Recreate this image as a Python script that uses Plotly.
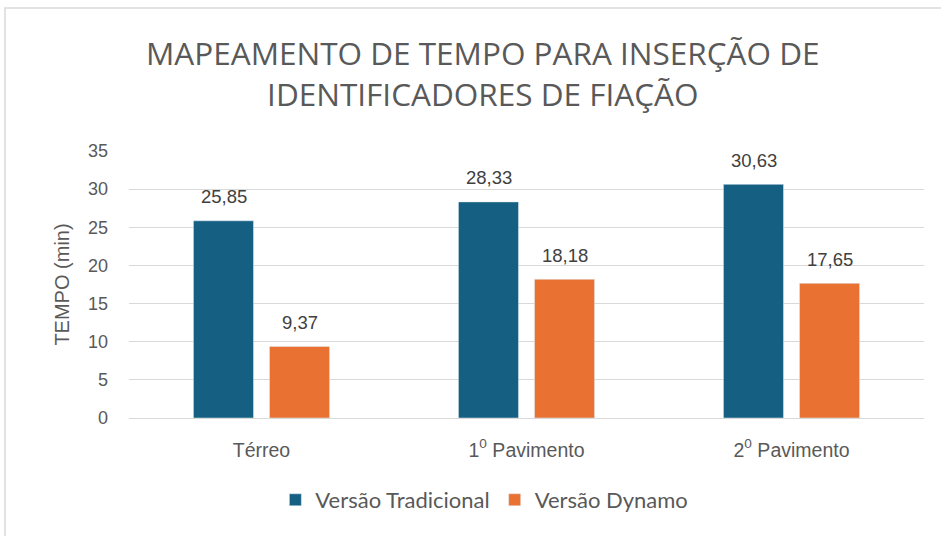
import plotly.graph_objects as go

categories = ["Térreo", "1<sup>0</sup> Pavimento", "2<sup>0</sup> Pavimento"]
tradicional = [25.85, 28.33, 30.63]
dynamo = [9.37, 18.18, 17.65]
series_names = ["Versão Tradicional", "Versão Dynamo"]
title_text = "MAPEAMENTO DE TEMPO PARA INSERÇÃO DE<br>IDENTIFICADORES DE FIAÇÃO"
colors = ["#156082", "#E97132"]

fig = go.Figure()
for name, vals, col in zip(series_names, [tradicional, dynamo], colors):
    fig.add_trace(go.Bar(x=categories, y=vals, name=name, marker=dict(color=col)))

def fmt(v):
    return f"{v:.2f}".replace(".", ",")

annotations = []
for vals, shift in [(tradicional, -38), (dynamo, 38)]:
    for c, v in zip(categories, vals):
        annotations.append(dict(x=c, y=v, xref="x", yref="y", text=fmt(v), showarrow=False,
                                xshift=shift, yshift=24, yanchor="middle",
                                font=dict(family="Liberation Sans", size=18.5, color="#404040")))

fig.update_layout(
    width=941, height=536,
    margin=dict(l=129, r=17, t=151, b=118),
    paper_bgcolor="white", plot_bgcolor="white",
    barmode="group", bargap=0.426, bargroupgap=0.21,
    title=dict(text=title_text, xref="paper", x=0.445, xanchor="center", y=0.878, yanchor="middle",
               font=dict(family="Open Sans", size=31.5, color="#595959")),
    legend=dict(orientation="h", x=0.447, xanchor="center", y=-0.307, yanchor="middle",
                font=dict(family="Lato", size=22, color="#595959"),
                itemwidth=30, traceorder="normal"),
    xaxis=dict(showgrid=False, showline=False, ticks="", ticklabelstandoff=18,
               tickfont=dict(family="Liberation Sans", size=19.5, color="#595959")),
    yaxis=dict(range=[0, 35], dtick=5, showgrid=True, gridcolor="#d9d9d9", gridwidth=1.3,
               zeroline=True, zerolinecolor="#d9d9d9", zerolinewidth=1.3,
               showline=False, ticks="", ticklabelstandoff=20,
               tickfont=dict(family="Liberation Sans", size=18, color="#595959"),
               title=dict(text="TEMPO (min)", standoff=12,
                          font=dict(family="Liberation Sans", size=20, color="#595959"))),
    annotations=annotations,
    shapes=[dict(type="rect", xref="paper", yref="paper",
                 x0=(5 - 129) / 795, x1=(950 - 129) / 795,
                 y0=(418 - 550) / 267, y1=(418 - 8) / 267,
                 line=dict(color="#d9d9d9", width=1.5), fillcolor="rgba(0,0,0,0)", layer="below")],
)

fig.write_html("out.html", config={"displayModeBar": False},
               post_script="document.body.style.margin='0';")
